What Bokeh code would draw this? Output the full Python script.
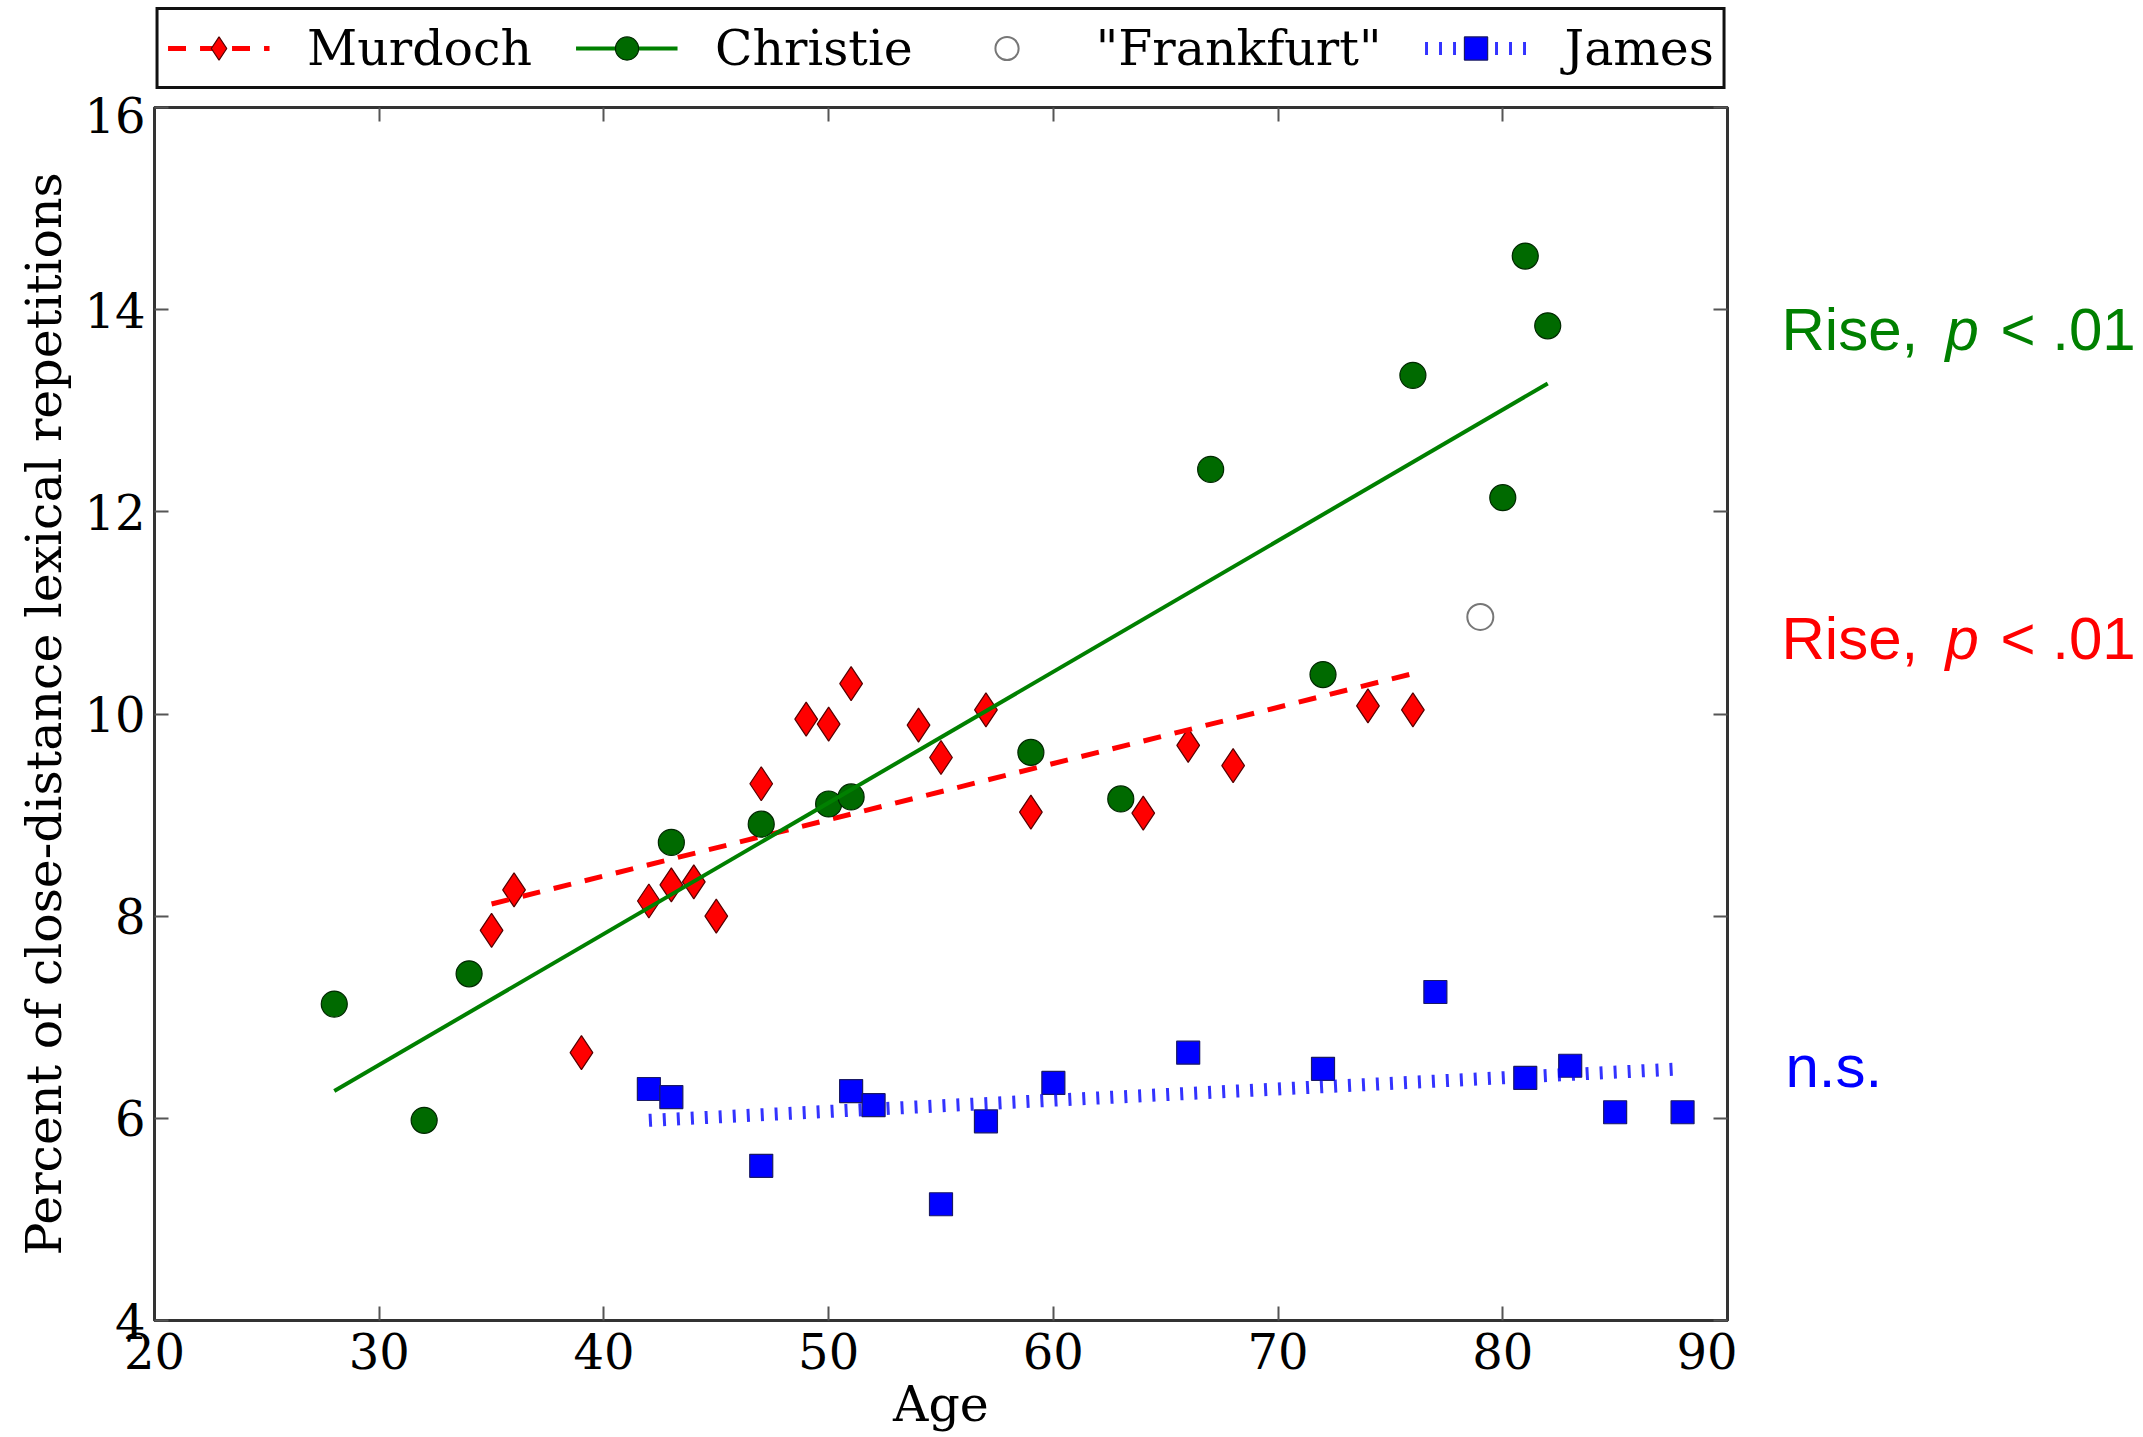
from bokeh.plotting import figure
from bokeh.layouts import row, column
from bokeh.models import (Range1d, LinearAxis, Legend, LegendItem, Label, FixedTicker,
                          ColumnDataSource)
from bokeh.embed import file_html
from bokeh.resources import INLINE

# ---- data ----
murdoch_age = [35, 36, 39, 42, 43, 44, 45, 47, 49, 50, 51, 54, 55, 57, 59, 64, 66, 68, 74, 76]
murdoch_val = [7.86, 8.26, 6.65, 8.15, 8.31, 8.34, 8.00, 9.31, 9.95, 9.90, 10.30, 9.89, 9.57,
               10.04, 9.03, 9.02, 9.69, 9.49, 10.08, 10.04]
murdoch_fit_age = [35, 76]
murdoch_fit_val = [8.12, 10.40]

christie_age = [28, 32, 34, 43, 47, 50, 51, 59, 63, 67, 72, 76, 80, 81, 82]
christie_val = [7.13, 5.98, 7.43, 8.73, 8.91, 9.11, 9.18, 9.62, 9.16, 12.42, 10.39, 13.35,
                12.14, 14.53, 13.84]
christie_fit_age = [28, 82]
christie_fit_val = [6.27, 13.27]

frankfurt_age = [79]
frankfurt_val = [10.96]

james_age = [42, 43, 47, 51, 52, 55, 57, 60, 66, 72, 77, 81, 83, 85, 88]
james_val = [6.29, 6.21, 5.53, 6.27, 6.13, 5.15, 5.97, 6.35, 6.65, 6.49, 7.25, 6.40, 6.52,
             6.06, 6.06]
james_fit_age = [42, 88]
james_fit_val = [5.98, 6.49]

x_ticks = [20, 30, 40, 50, 60, 70, 80, 90]
y_ticks = [4, 6, 8, 10, 12, 14, 16]

series_names = ["Murdoch", "Christie", '"Frankfurt"', "James"]

annotations = [("#008000", 13.80, ["Rise,", "p", "< .01"]),
               ("#ff0000", 10.75, ["Rise,", "p", "< .01"]),
               ("#0000ff", 6.51, ["n.s."])]

SERIF = "DejaVu Serif"
SANS = "Liberation Sans"

TOTAL_W = 2140
LEG_H = 96
TOP, BOTTOM, LEFT, RIGHT = 11, 114, 154, 10
FW, FH = 1573, 1213
PW = LEFT + FW + RIGHT
QW = TOTAL_W - PW

# ---- sources shared by the plot and the legend strip ----
src_m = ColumnDataSource(dict(x=murdoch_age, y=murdoch_val))
src_mf = ColumnDataSource(dict(x=murdoch_fit_age, y=murdoch_fit_val))
src_c = ColumnDataSource(dict(x=christie_age, y=christie_val))
src_cf = ColumnDataSource(dict(x=christie_fit_age, y=christie_fit_val))
src_f = ColumnDataSource(dict(x=frankfurt_age, y=frankfurt_val))
src_j = ColumnDataSource(dict(x=james_age, y=james_val))
src_jf = ColumnDataSource(dict(x=james_fit_age, y=james_fit_val))

# ---- styles per series ----
M_SC = dict(marker="diamond", size=34, fill_color="#ff0000", line_color="#550000", line_width=1.2)
M_LN = dict(line_color="#ff0000", line_width=5, line_dash="18 14")
C_SC = dict(marker="circle", size=26, fill_color="#006a00", line_color="#002800", line_width=1.2)
C_LN = dict(line_color="#008000", line_width=4)
F_SC = dict(marker="circle", size=26, fill_color="white", line_color="#777777", line_width=2)
J_SC = dict(marker="square", size=23, fill_color="#0000ff", line_color="#1a1a66", line_width=1.2)
J_LN = dict(line_color="#0000ff", line_width=13, line_alpha=0.8, line_dash="3 11")


def draw_series(fig):
    r = {}
    r["m_sc"] = fig.scatter("x", "y", source=src_m, **M_SC)
    r["m_ln"] = fig.line("x", "y", source=src_mf, **M_LN)
    r["c_sc"] = fig.scatter("x", "y", source=src_c, **C_SC)
    r["c_ln"] = fig.line("x", "y", source=src_cf, **C_LN)
    r["f_sc"] = fig.scatter("x", "y", source=src_f, **F_SC)
    r["j_sc"] = fig.scatter("x", "y", source=src_j, **J_SC)
    r["j_ln"] = fig.line("x", "y", source=src_jf, **J_LN)
    return r


p = figure(x_range=Range1d(20, 90), y_range=Range1d(4, 16),
           frame_width=FW, frame_height=FH,
           min_border_left=LEFT, min_border_right=RIGHT, min_border_top=TOP,
           min_border_bottom=BOTTOM,
           output_backend="svg", toolbar_location=None,
           x_axis_label="Age", y_axis_label="Percent of close-distance lexical repetitions")
p.xgrid.visible = False
p.ygrid.visible = False
p.outline_line_color = "#333333"
p.outline_line_width = 3
p.background_fill_color = "white"
p.border_fill_color = "white"

xt = FixedTicker(ticks=x_ticks)
yt = FixedTicker(ticks=y_ticks)
p.xaxis.ticker = xt
p.yaxis.ticker = yt


def style_axis(ax, labels=True, ticks=None):
    ax.major_tick_in = 14
    ax.major_tick_out = 0
    ax.minor_tick_in = 0
    ax.minor_tick_out = 0
    ax.major_tick_line_color = "#555555"
    ax.major_tick_line_width = 2
    ax.axis_line_color = "#333333"
    ax.axis_line_width = 3
    ax.major_label_text_font = SERIF
    ax.major_label_text_color = "black"
    ax.axis_label_text_font = SERIF
    ax.axis_label_text_font_style = "normal"
    ax.axis_label_text_font_size = "49px"
    ax.axis_label_text_color = "black"
    ax.major_label_text_font_size = "48px"
    if not labels:
        ax.major_label_overrides = {t: "" for t in ticks}
        ax.major_label_standoff = 0


style_axis(p.xaxis[0])
style_axis(p.yaxis[0])
p.xaxis.major_label_standoff = 12
p.xaxis.axis_label_standoff = 4
p.yaxis.major_label_standoff = 9
p.yaxis.axis_label_standoff = 8

top_ax = LinearAxis(ticker=xt)
style_axis(top_ax, labels=False, ticks=x_ticks)
right_ax = LinearAxis(ticker=yt)
style_axis(right_ax, labels=False, ticks=y_ticks)
p.add_layout(top_ax, "above")
p.add_layout(right_ax, "right")

draw_series(p)

# ---- legend strip above the plot (its frame shows no data) ----
LG_PAD = 12
lg = figure(x_range=Range1d(0, 1), y_range=Range1d(0, 1),
            frame_width=FW + 2 * LG_PAD, frame_height=LEG_H,
            min_border_left=LEFT - LG_PAD, min_border_right=TOTAL_W - LEFT - FW - LG_PAD,
            min_border_top=0, min_border_bottom=0,
            x_axis_location=None, y_axis_location=None,
            output_backend="svg", toolbar_location=None)
lg.grid.visible = False
lg.outline_line_color = None
lg.background_fill_color = "white"
lg.border_fill_color = "white"
k = draw_series(lg)

legend = Legend(items=[
    LegendItem(label=series_names[0], renderers=[k["m_ln"], k["m_sc"]]),
    LegendItem(label=series_names[1], renderers=[k["c_ln"], k["c_sc"]]),
    LegendItem(label=series_names[2], renderers=[k["f_sc"]]),
    LegendItem(label=series_names[3], renderers=[k["j_ln"], k["j_sc"]]),
], orientation="horizontal", location="center")
legend.label_text_font = SERIF
legend.label_text_font_size = "49px"
legend.label_text_color = "black"
legend.label_height = 58
legend.glyph_width = 102
legend.glyph_height = 58
legend.label_standoff = 38
legend.spacing = 43
legend.padding = 9
legend.margin = 0
legend.border_line_color = "#111111"
legend.border_line_alpha = 1.0
legend.border_line_width = 3
legend.background_fill_color = "white"
legend.background_fill_alpha = 1.0
lg.add_layout(legend, "center")

# ---- right-hand annotation panel (shares the y scale) ----
q = figure(x_range=Range1d(0, 1), y_range=p.y_range, frame_width=QW, frame_height=FH,
           min_border_left=0, min_border_right=0, min_border_top=TOP,
           min_border_bottom=BOTTOM, x_axis_location=None, y_axis_location=None,
           output_backend="svg", toolbar_location=None)
q.grid.visible = False
q.outline_line_color = None
q.background_fill_color = "white"
q.border_fill_color = "white"

offsets = [44, 208, 263]
for color, yv, parts in annotations:
    for i, part in enumerate(parts):
        q.add_layout(Label(x=0, y=yv, x_offset=offsets[i] + (4 if part == "n.s." else 0),
                           text=part, text_font=SANS, text_font_size="60px",
                           text_font_style="italic" if part == "p" else "normal",
                           text_color=color, text_baseline="alphabetic", text_align="left"))

layout = column(lg, row(p, q, spacing=0), spacing=0)
open("out.html", "w").write(file_html(layout, INLINE))
